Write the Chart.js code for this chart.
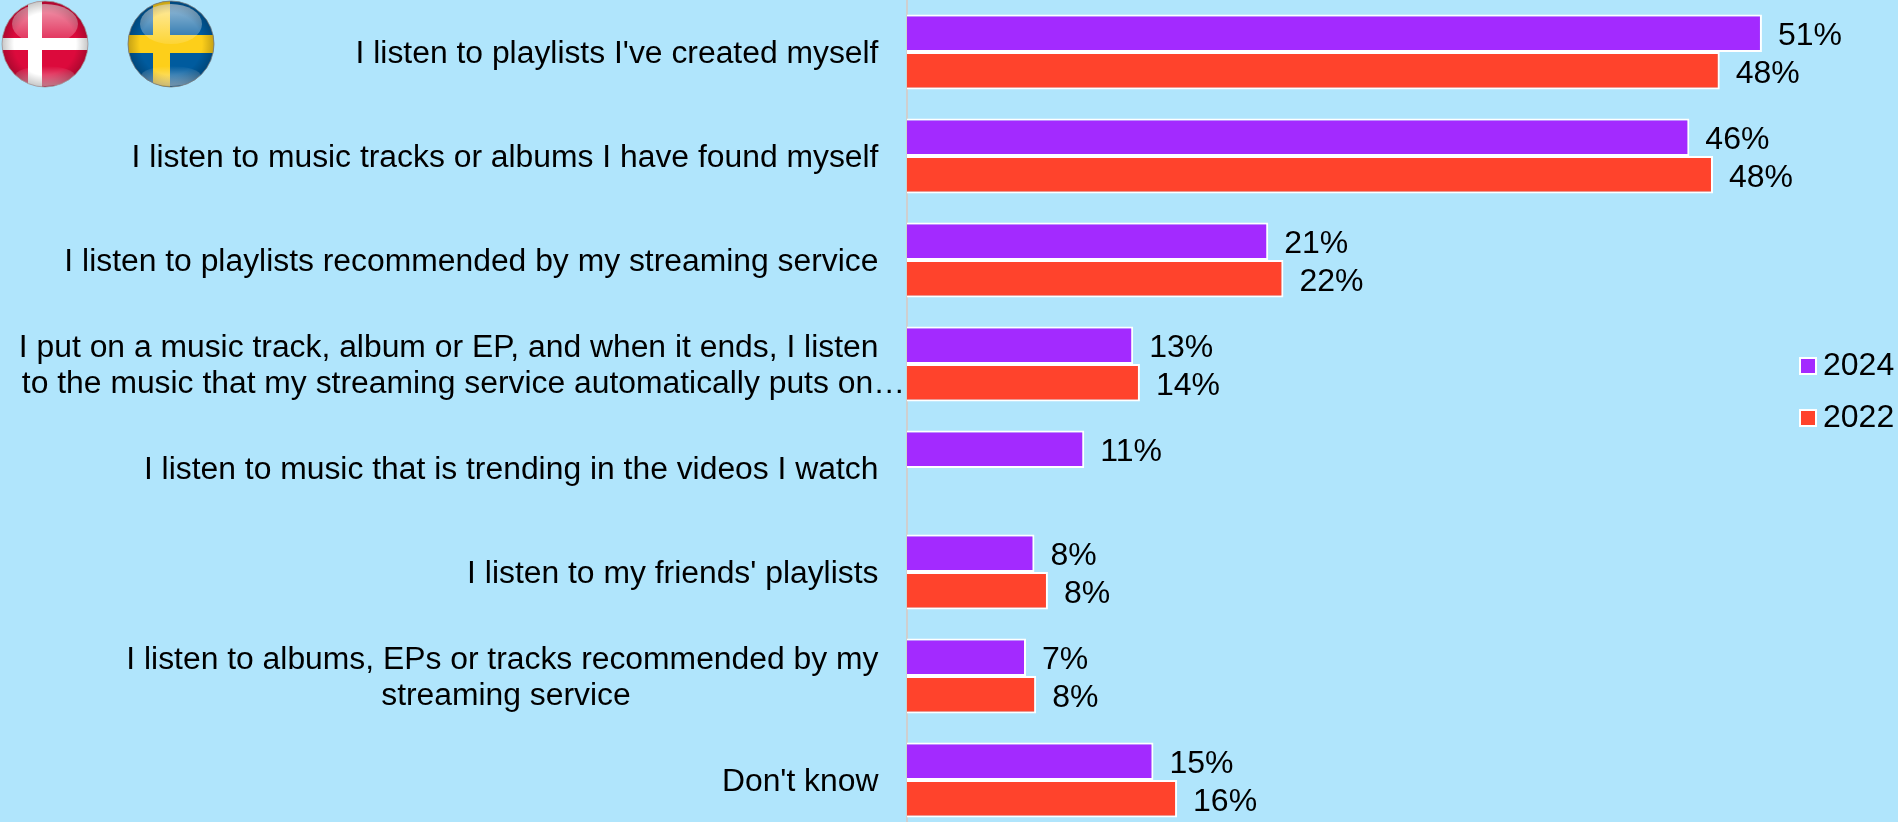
<!DOCTYPE html>
<html><head><meta charset="utf-8">
<script src="https://cdn.jsdelivr.net/npm/chart.js@4"></script>
<style>
html,body{margin:0;padding:0;background:#b0e5fc;overflow:hidden;width:1898px;height:822px}
#w{position:relative;width:1898px;height:822px;overflow:hidden}
canvas{display:block;position:absolute;left:0;top:0}
svg{position:absolute;left:0;top:0}
</style></head><body>
<div id="w"><canvas id="c" width="1898" height="832"></canvas>
<svg width="230" height="95" viewBox="0 0 230 95">
<defs>
<clipPath id="cd"><circle cx="45" cy="44" r="43"/></clipPath>
<clipPath id="cs"><circle cx="171" cy="44" r="43"/></clipPath>
<radialGradient id="gl" cx=".5" cy=".5" r=".5"><stop offset=".72" stop-color="#000" stop-opacity="0"/><stop offset="1" stop-color="#000" stop-opacity=".22"/></radialGradient>
<linearGradient id="hi" x1="0" y1="0" x2="0" y2="1"><stop offset="0" stop-color="#fff" stop-opacity=".6"/><stop offset="1" stop-color="#fff" stop-opacity=".12"/></linearGradient>
<linearGradient id="lo" x1="0" y1="0" x2="0" y2="1"><stop offset="0" stop-color="#fff" stop-opacity="0"/><stop offset="1" stop-color="#fff" stop-opacity=".55"/></linearGradient>
</defs>
<g clip-path="url(#cd)"><rect x="0" y="0" width="90" height="90" fill="#dc0a3c"/><rect x="28" y="0" width="14" height="90" fill="#fff"/><rect x="0" y="38" width="90" height="12" fill="#fff"/>
<ellipse cx="45" cy="24" rx="33" ry="20" fill="url(#hi)"/><ellipse cx="45" cy="76" rx="30" ry="10" fill="url(#lo)"/><circle cx="45" cy="44" r="43" fill="url(#gl)"/></g>
<circle cx="45" cy="44" r="43" fill="none" stroke="#999" stroke-width=".8"/>
<g clip-path="url(#cs)"><rect x="128" y="0" width="90" height="90" fill="#005b9e"/><rect x="153" y="0" width="17" height="90" fill="#fdcf1a"/><rect x="128" y="35" width="90" height="18" fill="#fdcf1a"/>
<ellipse cx="171" cy="24" rx="31" ry="20" fill="url(#hi)"/><ellipse cx="171" cy="76" rx="30" ry="10" fill="url(#lo)"/><circle cx="171" cy="44" r="43" fill="url(#gl)"/></g>
<circle cx="171" cy="44" r="43" fill="none" stroke="#777" stroke-width=".8"/>
</svg></div>
<script>
const categories = [
  ["I listen to playlists I've created myself"],
  ["I listen to music tracks or albums I have found myself"],
  ["I listen to playlists recommended by my streaming service"],
  ["I put on a music track, album or EP, and when it ends, I listen","to the music that my streaming service automatically puts on…"],
  ["I listen to music that is trending in the videos I watch"],
  ["I listen to my friends' playlists"],
  ["I listen to albums, EPs or tracks recommended by my","streaming service"],
  ["Don't know"]
];
const seriesNames = ["2024","2022"];
const values2024 = [50.65,46.35,21.4,13.4,10.5,7.55,7.05,14.6];
const values2022 = [48.15,47.75,22.3,13.8,null,8.35,7.65,16.0];
const colors = ["#a32aff","#ff432c"];
const FONT = "'Liberation Sans', Arial, sans-serif";
const SIZE = 32;

// trailing blanks place each tick line the way the original's text boxes do
const trails = {0:[3],1:[3],2:[3],3:[3,0],4:[3],5:[3],6:[3,31],7:[3]};

function swatch(color){
  const s=document.createElement('canvas');s.width=22;s.height=18;
  const g=s.getContext('2d');g.fillStyle='#fff';g.fillRect(4,0,18,18);
  g.fillStyle=color;g.fillRect(6,2,14,14);return s;
}
const valueLabels={id:'valueLabels',afterDatasetsDraw(chart){
  const ctx=chart.ctx;ctx.save();ctx.font=SIZE+'px '+FONT;ctx.fillStyle='#000';ctx.textBaseline='middle';ctx.textAlign='left';
  chart.data.datasets.forEach((d,i)=>{chart.getDatasetMeta(i).data.forEach((b,j)=>{
    if(d.data[j]==null)return;ctx.fillText(Math.round(d.data[j])+'%',b.x+16,b.y+3);});});
  ctx.restore();}};
const legendPlace={id:'legendPlace',afterLayout(chart){
  const l=chart.legend;const h=l.bottom-l.top;const w=l.right-l.left;
  l.left=1785;l.right=l.left+w;l.top=392-h/2;l.bottom=l.top+h;}};

new Chart(document.getElementById('c'),{
  type:'bar',
  data:{labels:categories,datasets:[
    {label:seriesNames[0],data:values2024,backgroundColor:colors[0],borderColor:'#fff',borderWidth:2,categoryPercentage:.72,barPercentage:1},
    {label:seriesNames[1],data:values2022,backgroundColor:colors[1],borderColor:'#fff',borderWidth:2,categoryPercentage:.72,barPercentage:1}
  ]},
  plugins:[valueLabels,legendPlace],
  options:{
    indexAxis:'y',responsive:false,animation:false,devicePixelRatio:1,
    layout:{padding:0,autoPadding:false},
    scales:{
      x:{display:false,min:0,max:51.65,grid:{display:false}},
      y:{
        grid:{display:false,drawTicks:false},
        border:{display:true,color:'#cfcfcf',width:2},
        afterFit(s){s.width=907;s.paddingTop=0;s.paddingBottom=0;},
        ticks:{autoSkip:false,maxRotation:0,minRotation:0,padding:2,labelOffset:2,color:'#000',
          font:{family:FONT,size:31.85,lineHeight:1.13},
          callback(v,i){return categories[i].map((t,k)=>t+' '.repeat(trails[i][k]));}}
      }
    },
    plugins:{
      tooltip:{enabled:false},
      legend:{position:'right',
        labels:{usePointStyle:true,pointStyleWidth:2,boxHeight:18,color:'#000',padding:20,font:{family:FONT,size:SIZE},
          generateLabels(ch){return Chart.defaults.plugins.legend.labels.generateLabels(ch).map((o,i)=>({...o,pointStyle:swatch(colors[i])}));}}
      }
    }
  }
});
</script></body></html>
